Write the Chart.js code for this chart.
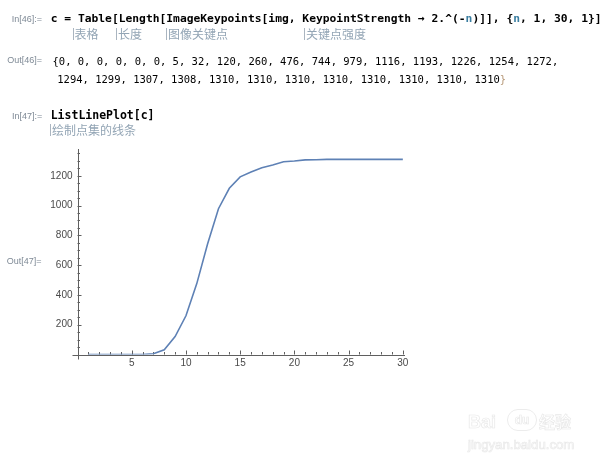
<!DOCTYPE html>
<html><head><meta charset="utf-8">
<script src="https://cdn.jsdelivr.net/npm/chart.js@4/dist/chart.umd.min.js"></script>
<style>
html,body{margin:0;padding:0;background:#fff;width:611px;height:467px;overflow:hidden}
body{position:relative}
.t{position:absolute;white-space:pre;line-height:1}
.lab{font-family:"Liberation Sans",Arial,sans-serif;font-size:9px;color:#7f8a96}
.code{font-family:"DejaVu Sans Mono",monospace;font-weight:bold;font-size:11.3px;color:#000}
.out{font-family:"DejaVu Sans Mono",monospace;font-size:10.5px;color:#000}
.cn{font-family:"Noto Sans CJK SC",sans-serif;font-size:12px;color:#93a5b5;border-left:1px solid #aab5c0;padding-left:1px}
.v{color:#3b7ea1}
.wm{font-family:"Liberation Sans",Arial,sans-serif;font-weight:bold;color:#fff;-webkit-text-stroke:0.7px #e9e9e9}
#c{position:absolute;left:0;top:0}
</style></head>
<body>
<canvas id="c" width="611" height="467"></canvas>

<div class="t lab" style="left:11.7px;top:14.9px">In[46]:=</div>
<div class="t code" style="left:50.7px;top:12.8px">c = Table[Length[ImageKeypoints[img, KeypointStrength → 2.^(-<span class="v">n</span>)]], {<span class="v">n</span>, 1, 30, 1}]</div>
<div class="t cn" style="left:72.5px;top:27.5px">表格</div>
<div class="t cn" style="left:116px;top:27.5px">长度</div>
<div class="t cn" style="left:166px;top:27.5px">图像关键点</div>
<div class="t cn" style="left:304px;top:27.5px">关键点强度</div>

<div class="t lab" style="left:7.3px;top:56.4px">Out[46]=</div>
<div class="t out" id="out1" style="left:52.5px;top:55.5px"></div>
<div class="t out" id="out2" style="left:57.3px;top:74.3px"></div>

<div class="t lab" style="left:12px;top:112.4px">In[47]:=</div>
<div class="t code" style="left:50.7px;top:109.7px;font-size:11.5px">ListLinePlot[c]</div>
<div class="t cn" style="left:50px;top:124.1px">绘制点集的线条</div>

<div class="t lab" style="left:6.7px;top:256.9px">Out[47]=</div>

<div class="t wm" style="left:468px;top:412.8px;font-size:18px">Bai</div>
<div class="t wm" style="left:507px;top:409px;width:28px;height:20px;border:1px solid #ececec;border-radius:12px;font-size:12px;line-height:20px;text-align:center">du</div>
<div class="t wm" style="left:539px;top:413px;font-size:16px;font-family:'Noto Sans CJK SC',sans-serif">经验</div>
<div class="t wm" style="left:468px;top:437.7px;font-size:13.2px;font-weight:normal">jingyan.baidu.com</div>

<script>
// ---- data ----
const nValues = [1,2,3,4,5,6,7,8,9,10,11,12,13,14,15,16,17,18,19,20,21,22,23,24,25,26,27,28,29,30];
const keypointCounts = [0,0,0,0,0,0,5,32,120,260,476,744,979,1116,1193,1226,1254,1272,1294,1299,1307,1308,1310,1310,1310,1310,1310,1310,1310,1310];
const xTickLabels = [5,10,15,20,25,30];
const yTickLabels = [200,400,600,800,1000,1200];

// Out[46] text from the data
document.getElementById('out1').textContent = '{' + keypointCounts.slice(0,18).join(', ') + ',';
document.getElementById('out2').innerHTML = keypointCounts.slice(18).join(', ') + '<span style="color:#b89a7a">}</span>';

const axisColor = '#5f5f5f';
const mmaAxes = {
  id: 'mmaAxes',
  beforeDatasetsDraw(chart) {
    const ctx = chart.ctx;
    const xs = chart.scales.x, ys = chart.scales.y;
    const ox = xs.getPixelForValue(xs.min);
    const oy = ys.getPixelForValue(0);
    ctx.save();
    ctx.strokeStyle = axisColor;
    ctx.lineWidth = 1;
    ctx.beginPath();
    ctx.moveTo(xs.left - 5, Math.round(oy) + 0.5);
    ctx.lineTo(xs.right, Math.round(oy) + 0.5);
    ctx.moveTo(Math.round(ox) + 0.5, ys.top);
    ctx.lineTo(Math.round(ox) + 0.5, ys.bottom + 5);
    for (let v = Math.ceil(xs.min); v <= xs.max; v += 1) {
      if (v === 0) continue;
      const px = Math.round(xs.getPixelForValue(v)) + 0.5;
      const len = xTickLabels.includes(v) ? 4 : 2.5;
      ctx.moveTo(px, oy);
      ctx.lineTo(px, oy - len);
    }
    for (let v = 50; v <= ys.max; v += 50) {
      const py = Math.round(ys.getPixelForValue(v)) + 0.5;
      const len = yTickLabels.includes(v) ? 4 : 2.5;
      ctx.moveTo(ox, py);
      ctx.lineTo(ox + len, py);
    }
    ctx.stroke();
    ctx.restore();
  }
};

new Chart(document.getElementById('c'), {
  type: 'line',
  data: {
    datasets: [{
      data: nValues.map((n, i) => ({ x: n, y: keypointCounts[i] })),
      borderColor: '#5e81b5',
      borderWidth: 1.6,
      pointRadius: 0,
      tension: 0,
      fill: false
    }]
  },
  options: {
    responsive: false,
    animation: false,
    devicePixelRatio: 1,
    layout: { padding: { left: 0, top: 149, right: 206, bottom: 0 } },
    plugins: { legend: { display: false }, tooltip: { enabled: false } },
    scales: {
      x: {
        type: 'linear', min: 0, max: 30.2,
        grid: { display: false, drawTicks: false },
        border: { display: false },
        afterBuildTicks: s => { s.ticks = xTickLabels.map(v => ({ value: v })); },
        afterFit: s => { s.height = 112.5; },
        ticks: { padding: 3, maxRotation: 0, color: '#4a4a4a', font: { family: 'Liberation Sans', size: 10 }, callback: v => String(v) }
      },
      y: {
        type: 'linear', min: 0, max: 1380,
        grid: { display: false, drawTicks: false },
        border: { display: false },
        afterBuildTicks: s => { s.ticks = yTickLabels.map(v => ({ value: v })); },
        afterFit: s => { s.width = 77.5; },
        ticks: { padding: 5, color: '#4a4a4a', font: { family: 'Liberation Sans', size: 10 }, callback: v => String(v) }
      }
    }
  },
  plugins: [mmaAxes]
});
</script>
</body></html>
